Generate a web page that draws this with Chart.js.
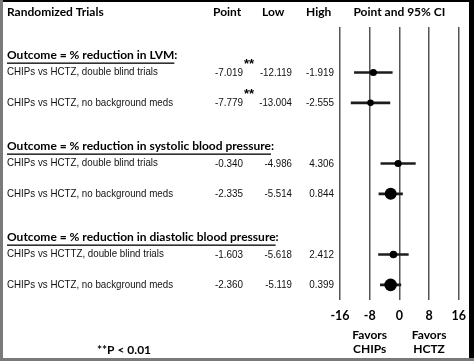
<!DOCTYPE html>
<html>
<head>
<meta charset="utf-8">
<script src="https://cdn.jsdelivr.net/npm/chart.js@4.4.1/dist/chart.umd.min.js"></script>
<style>
  html, body { margin: 0; padding: 0; background: #fff; }
</style>
</head>
<body>
<canvas id="forest" width="474" height="361"></canvas>
<script>
// rows of the forest plot, blank rows are the gaps between outcome blocks
const rowLabels = [
  "",
  "CHIPs vs HCTZ, double blind trials",
  "CHIPs vs HCTZ, no background meds",
  "",
  "CHIPs vs HCTZ, double blind trials",
  "CHIPs vs HCTZ, no background meds",
  "",
  "CHIPs vs HCTTZ, double blind trials",
  "CHIPs vs HCTZ, no background meds",
];
const pointValues = [null, -7.019, -7.779, null, -0.340, -2.335, null, -1.603, -2.360];
const lowValues = [null, -12.119, -13.004, null, -4.986, -5.514, null, -5.618, -5.119];
const highValues = [null, -1.919, -2.555, null, 4.306, 0.844, null, 2.412, 0.399];
const dotRadius = [0, 3.6, 3.3, 0, 3.6, 6, 0, 3.8, 6.3];
const signif = ["", "**", "**", "", "", "", "", "", ""];
const outcomeRows = [1, 4, 7];
const outcomeTitles = [
  "Outcome = % reduction in LVM",
  "Outcome = % reduction in systolic blood pressure",
  "Outcome = % reduction in diastolic blood pressure",
];
const xTicks = [-16, -8, 0, 8, 16];

const ciRanges = lowValues.map((lo, i) => (lo === null ? null : [lo, highValues[i]]));

const headFont = "Lato";
const bodyFont = "Liberation Sans";

function font(ctx, size, weight, family) {
  ctx.font = `${weight} ${size}px "${family}"`;
}

// the table text is a bit narrower than plain Arial
function squeezed(ctx, text, xPos, yMid, align, squeeze) {
  ctx.save();
  ctx.translate(xPos, yMid);
  ctx.scale(squeeze, 1);
  ctx.textAlign = align;
  ctx.textBaseline = "middle";
  ctx.fillText(text, 0, 0);
  ctx.restore();
}

const tablePlugin = {
  id: "table",
  afterDraw(chart) {
    const { ctx, scales } = chart;
    const x = scales.x;
    const y = scales.y;
    ctx.save();
    ctx.fillStyle = "#000";
    ctx.textBaseline = "middle";

    // header row
    font(ctx, 12, "bold", headFont);
    ctx.textAlign = "left";
    ctx.fillText("Randomized Trials", 7, 12);
    ctx.fillText("Point", 213, 12);
    ctx.fillText("Low", 262, 12);
    ctx.fillText("High", 306, 12);
    ctx.textAlign = "center";
    ctx.fillText("Point and 95% CI", x.getPixelForValue(0), 12);

    // outcome titles, underlined
    ctx.textAlign = "left";
    outcomeTitles.forEach((t, k) => {
      const yy = y.getPixelForValue(outcomeRows[k]) - 17;
      font(ctx, 12, "bold", headFont);
      ctx.fillText(t + ":", 7, yy);
      const w = ctx.measureText(t).width;
      ctx.fillRect(7, yy + 7, w, 1.3);
    });

    // study rows
    rowLabels.forEach((lab, i) => {
      if (pointValues[i] === null) return;
      const yy = y.getPixelForValue(i);
      ctx.fillStyle = "#111";
      font(ctx, 10.5, "normal", bodyFont);
      squeezed(ctx, lab, 7, yy, "left", 0.93);
      font(ctx, 11, "normal", bodyFont);
      squeezed(ctx, pointValues[i].toFixed(3), 243, yy, "right", 0.9);
      squeezed(ctx, lowValues[i].toFixed(3), 292, yy, "right", 0.88);
      squeezed(ctx, highValues[i].toFixed(3), 334, yy, "right", 0.9);
      if (signif[i]) {
        font(ctx, 13, "bold", bodyFont);
        ctx.textAlign = "left";
        ctx.fillStyle = "#000";
        ctx.fillText(signif[i], 244, yy - 8);
      }
    });

    // favours labels under the axis
    ctx.fillStyle = "#000";
    ctx.textAlign = "center";
    font(ctx, 12, "bold", headFont);
    ctx.fillText("Favors", x.getPixelForValue(-8), 335);
    ctx.fillText("CHIPs", x.getPixelForValue(-8), 349);
    ctx.fillText("Favors", x.getPixelForValue(8), 335);
    ctx.fillText("HCTZ", x.getPixelForValue(8), 349);

    ctx.fillText("**P < 0.01", 124, 350);

    // frame
    ctx.fillStyle = "#000";
    ctx.fillRect(0, 0, 474, 2);
    ctx.fillRect(469, 0, 5, 358);
    ctx.fillStyle = "#7a7a7a";
    ctx.fillRect(0, 0, 3, 361);
    ctx.fillRect(0, 358, 474, 3);
    ctx.restore();
  },
};

new Chart(document.getElementById("forest"), {
  type: "bar",
  data: {
    labels: rowLabels,
    datasets: [
      {
        type: "bar",
        data: ciRanges,
        backgroundColor: "#1c1c1c",
        barThickness: 2,
        order: 2,
      },
      {
        type: "line",
        indexAxis: "y",
        data: pointValues,
        showLine: false,
        pointRadius: dotRadius,
        pointBackgroundColor: "#000",
        pointBorderWidth: 0,
        order: 1,
      },
    ],
  },
  options: {
    indexAxis: "y",
    responsive: false,
    animation: false,
    layout: { padding: { left: 340, right: 13, top: 27, bottom: 0 } },
    plugins: {
      legend: { display: false },
      tooltip: { enabled: false },
    },
    scales: {
      x: {
        type: "linear",
        min: -16,
        max: 16,
        afterBuildTicks: (s) => {
          s.ticks = xTicks.map((v) => ({ value: v }));
        },
        afterFit: (s) => {
          s.height = 61;
        },
        ticks: {
          color: "#000",
          padding: 8,
          font: { family: headFont, weight: "bold", size: 12.5 },
        },
        grid: { color: "#555", lineWidth: 1.5, drawTicks: false },
        border: { display: false },
      },
      y: {
        type: "category",
        display: false,
        offset: true,
        grid: { display: false },
      },
    },
  },
  plugins: [tablePlugin],
});
</script>
</body>
</html>
